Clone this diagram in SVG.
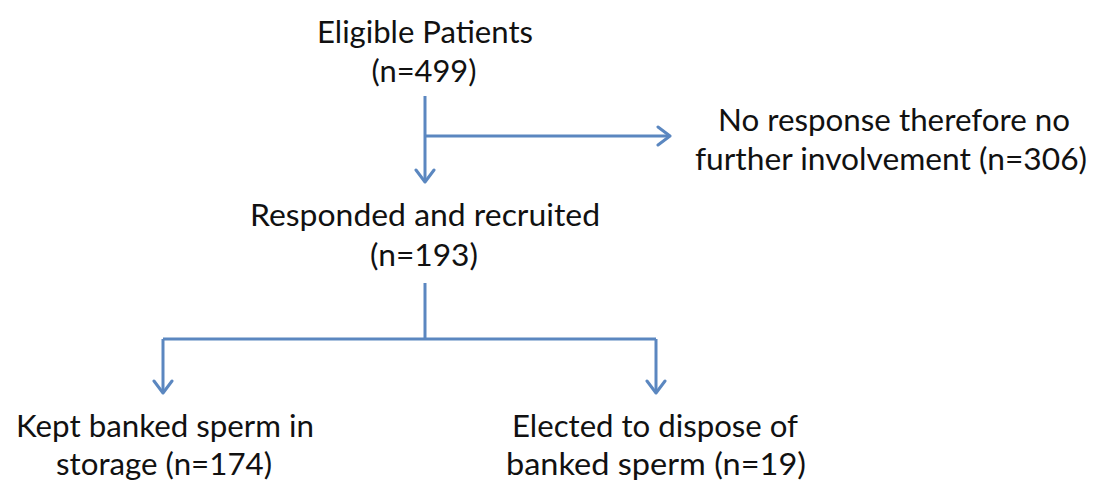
<svg xmlns="http://www.w3.org/2000/svg" width="1095" height="484" viewBox="0 0 1095 484">
  <style>
    text { font-family: Lato, "Open Sans", "Liberation Sans", sans-serif; font-size: 30px; fill: #111111; text-anchor: middle; }
    .conn { stroke: #5b87c0; stroke-width: 3; fill: none; }
  </style>
  <defs>
    <marker id="chev" viewBox="0 0 16 22" refX="14" refY="11" markerWidth="16" markerHeight="22" markerUnits="userSpaceOnUse" orient="auto">
      <path d="M2,2 L14,11 L2,20" fill="none" stroke="#5b87c0" stroke-width="3" stroke-linecap="round" stroke-linejoin="round"/>
    </marker>
  </defs>
  <rect width="1095" height="484" fill="#ffffff"/>
  <g id="connectors">
    <path class="conn" d="M425,96 L425,182" marker-end="url(#chev)"/>
    <path class="conn" d="M425,136 L670,136" marker-end="url(#chev)"/>
    <path class="conn" d="M425,283 L425,339"/>
    <path class="conn" d="M163,339 L656,339"/>
    <path class="conn" d="M163,339 L163,393" marker-end="url(#chev)"/>
    <path class="conn" d="M656,339 L656,393" marker-end="url(#chev)"/>
  </g>
  <g id="eligible">
    <text x="425" y="43" textLength="216" lengthAdjust="spacingAndGlyphs">Eligible Patients</text>
    <text x="424" y="82" textLength="105" lengthAdjust="spacingAndGlyphs">(n=499)</text>
  </g>
  <g id="no-response">
    <text x="894" y="131" textLength="352" lengthAdjust="spacingAndGlyphs">No response therefore no</text>
    <text x="891" y="170" textLength="392" lengthAdjust="spacingAndGlyphs">further involvement (n=306)</text>
  </g>
  <g id="recruited">
    <text x="425" y="226" textLength="350" lengthAdjust="spacingAndGlyphs">Responded and recruited</text>
    <text x="424" y="266" textLength="108" lengthAdjust="spacingAndGlyphs">(n=193)</text>
  </g>
  <g id="kept">
    <text x="165" y="437" textLength="298" lengthAdjust="spacingAndGlyphs">Kept banked sperm in</text>
    <text x="164" y="475" textLength="216" lengthAdjust="spacingAndGlyphs">storage (n=174)</text>
  </g>
  <g id="disposed">
    <text x="655" y="437" textLength="286" lengthAdjust="spacingAndGlyphs">Elected to dispose of</text>
    <text x="656" y="475" textLength="300" lengthAdjust="spacingAndGlyphs">banked sperm (n=19)</text>
  </g>
</svg>
